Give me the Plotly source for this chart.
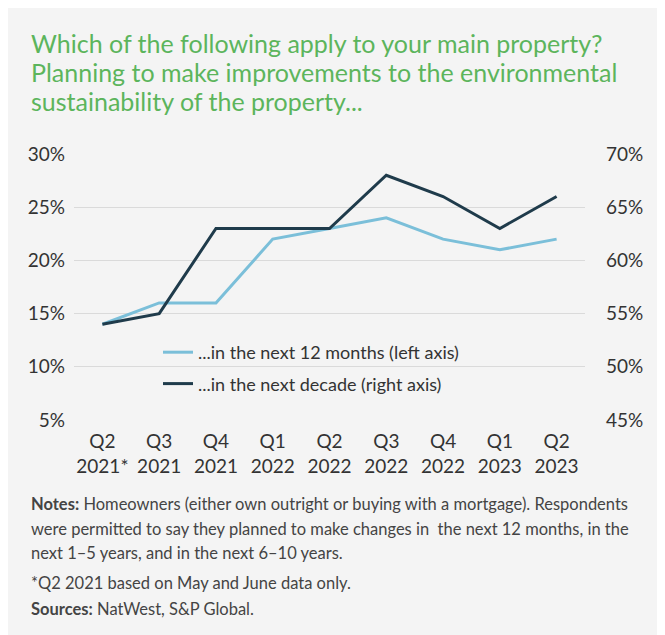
import plotly.graph_objects as go

quarters = ["Q2<br>2021*", "Q3<br>2021", "Q4<br>2021", "Q1<br>2022", "Q2<br>2022",
            "Q3<br>2022", "Q4<br>2022", "Q1<br>2023", "Q2<br>2023"]
next_12_months = [14, 16, 16, 22, 23, 24, 22, 21, 22]   # left axis, %
next_decade = [54, 55, 63, 63, 63, 68, 66, 63, 66]      # right axis, %
left_ticks = [5, 10, 15, 20, 25, 30]
right_ticks = [45, 50, 55, 60, 65, 70]

title_lines = [
    "Which of the following apply to your main property?",
    "Planning to make improvements to the environmental",
    "sustainability of the property...",
]
note_lines = [
    "<b>Notes:</b> Homeowners (either own outright or buying with a mortgage). Respondents",
    "were permitted to say they planned to make changes in  the next 12 months, in the",
    "next 1\u20135 years, and in the next 6\u201310 years.",
    "*Q2 2021 based on May and June data only.",
    "<b>Sources:</b> NatWest, S&P Global.",
]

# page body has an 8px margin: figure starts at (8, 8) in the window
OFF = 8
W, H = 665 - OFF, 635 - OFF
# plot area in window coordinates
PL, PR, PT, PB = 74, 585, 154, 420
L, R, T, B = PL - OFF, (665 - PR), PT - OFF, (635 - PB)
PW, PH = W - L - R, H - T - B

def px(x):
    return (x - OFF - L) / PW

def py(y):
    return (H - B - (y - OFF)) / PH

FONT = "Lato"
TXT = "#333333"
LIGHT = "#7bbfd9"
DARK = "#1f3b4b"
GREEN = "#5cb55c"
BG = "#f4f4f4"

fig = go.Figure()
fig.add_trace(go.Scatter(x=quarters, y=next_12_months, mode="lines",
                         name="...in the next 12 months (left axis)",
                         line=dict(color=LIGHT, width=3), legendgroup="a"))
fig.add_trace(go.Scatter(x=quarters, y=next_decade, mode="lines", yaxis="y2",
                         name="...in the next decade (right axis)",
                         line=dict(color=DARK, width=3), legendgroup="b"))

# thin white strip at the right edge of the card
fig.add_shape(type="rect", xref="paper", yref="paper", layer="below",
              x0=px(663), x1=px(670), y0=py(640), y1=py(0),
              fillcolor="white", line=dict(width=0))

ann = []
for i, t in enumerate(title_lines):
    ann.append(dict(text=t, x=px(29), y=py(43 + 29 * i), xref="paper", yref="paper",
                    xanchor="left", yanchor="middle", showarrow=False,
                    font=dict(family=FONT, size=25, color=GREEN)))
note_y = [504, 529, 553, 583, 609]
for t, yy in zip(note_lines, note_y):
    ann.append(dict(text=t, x=px(29), y=py(yy), xref="paper", yref="paper",
                    xanchor="left", yanchor="middle", showarrow=False,
                    font=dict(family=FONT, size=16.5, color="#444444")))

fig.update_layout(
    width=W, height=H,
    margin=dict(l=L, r=R, t=T, b=B, pad=0),
    paper_bgcolor=BG, plot_bgcolor=BG,
    font=dict(family=FONT, color=TXT),
    showlegend=True,
    legend=dict(x=px(158), y=py(334), xanchor="left", yanchor="top",
                bgcolor="rgba(0,0,0,0)", font=dict(family=FONT, size=18, color=TXT),
                tracegroupgap=5, traceorder="grouped"),
    xaxis=dict(type="category", range=[-0.5, 8.5], showgrid=False, zeroline=False,
               showline=False, ticks="", tickfont=dict(family=FONT, size=19, color=TXT),
               ticklabelstandoff=8),
    yaxis=dict(range=[5, 30], tickvals=left_ticks, ticktext=[f"{v}%" for v in left_ticks],
               showgrid=True, gridcolor="#dadada", gridwidth=1, zeroline=False,
               showline=False, ticks="", tickfont=dict(family=FONT, size=19, color=TXT),
               ticklabelstandoff=8),
    yaxis2=dict(range=[45, 70], tickvals=right_ticks, ticktext=[f"{v}%" for v in right_ticks],
                overlaying="y", side="right", showgrid=False, zeroline=False,
                showline=False, ticks="", tickfont=dict(family=FONT, size=19, color=TXT),
                ticklabelstandoff=20),
    annotations=ann,
)

fig.write_html("out.html")
